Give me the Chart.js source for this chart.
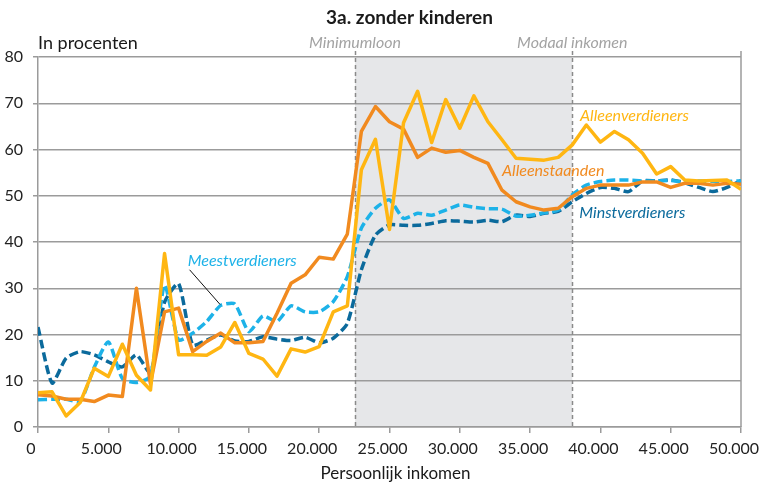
<!DOCTYPE html>
<html><head><meta charset="utf-8">
<script src="https://cdn.jsdelivr.net/npm/chart.js@4/dist/chart.umd.min.js"></script>
<style>html,body{margin:0;padding:0;background:#fff}#wrap{width:764px;height:487px}</style>
</head><body><div id="wrap"><canvas id="c" width="764" height="487"></canvas></div>
<script>
// Persoonlijk inkomen (euro), category positions
const incomes = [0,1000,2000,3000,4000,5000,6000,7000,8000,9000,10000,11000,12000,13000,14000,15000,16000,17000,18000,19000,20000,
  21000,22000,23000,24000,25000,26000,27000,28000,29000,30000,31000,32000,33000,34000,35000,36000,37000,38000,39000,40000,
  41000,42000,43000,44000,45000,46000,47000,48000,49000,50000];

const alleenstaanden = [7.0,6.7,6.0,6.0,5.5,6.9,6.6,30.0,9.3,24.9,25.7,16.3,18.5,20.3,18.2,18.2,18.5,24.6,31.1,32.9,36.7,
  36.3,41.7,63.9,69.3,66.0,64.4,58.3,60.3,59.4,59.8,58.3,57.0,51.2,48.7,47.6,46.9,47.3,49.8,51.6,52.3,
  52.3,52.3,53.0,53.0,51.8,52.7,52.7,52.3,52.7,52.5];

const alleenverdieners = [7.4,7.6,2.4,5.3,12.7,10.9,17.9,11.2,8.0,37.5,15.6,15.6,15.5,17.3,22.6,15.9,14.7,11.0,16.9,16.2,17.4,
  24.9,26.2,55.6,62.2,42.7,65.8,72.6,61.5,70.8,64.6,71.6,66.0,62.1,58.1,57.9,57.7,58.3,61.0,65.3,61.6,
  63.9,62.1,59.2,54.7,56.3,53.4,53.2,53.3,53.4,51.4];

const meestverdieners = [5.9,6.0,6.0,5.5,12.9,18.4,10.5,9.6,11.0,30.7,18.8,20.3,22.8,26.3,26.6,20.6,24.0,22.8,26.2,24.9,24.9,
  27.1,32.5,43.0,47.3,49.1,45.1,46.2,45.8,46.9,48.0,47.5,47.2,47.1,45.6,45.8,46.3,46.9,50.2,52.3,53.1,
  53.4,53.4,53.2,53.2,53.3,53.0,53.2,53.1,53.1,53.2];

const minstverdieners = [21.6,9.5,14.9,16.3,15.6,14.1,13.0,15.6,11.7,27.0,31.0,17.7,18.8,19.9,18.6,18.5,19.5,19.0,18.7,19.4,18.2,
  19.2,22.4,34.0,41.5,43.7,43.6,43.6,44.0,44.6,44.5,44.3,44.7,44.4,45.8,45.5,46.2,46.6,48.7,50.5,51.8,
  51.6,50.9,53.2,53.2,53.4,52.8,51.8,50.9,51.8,53.3];

const xTickLabels = ['0','5.000','10.000','15.000','20.000','25.000','30.000','35.000','40.000','45.000','50.000'];
const minimumloon = 22550;
const modaalInkomen = 38000;

const C_ORANGE = '#f18a1f';
const C_YELLOW = '#ffb612';
const C_LBLUE = '#1db2e8';
const C_DBLUE = '#0b6a9c';
const GRID = '#9b9b9b';
const FONT = 'Lato, "Open Sans", sans-serif';

function pts(vals){ return incomes.map((x,i)=>({x:x, y:vals[i]})); }

const overlay = {
  id: 'overlay',
  beforeDraw(chart){
    const {ctx, chartArea:a, scales:{x}} = chart;
    const x1 = x.getPixelForValue(minimumloon), x2 = x.getPixelForValue(modaalInkomen);
    ctx.save();
    ctx.fillStyle = '#e6e7e9';
    ctx.fillRect(x1, a.top, x2 - x1, a.bottom - a.top);
    ctx.restore();
  },
  beforeDatasetsDraw(chart){
    const {ctx, chartArea:a, scales:{x}} = chart;
    ctx.save();
    ctx.strokeStyle = GRID; ctx.lineWidth = 1.5;
    ctx.beginPath(); ctx.moveTo(a.right, a.top - 6); ctx.lineTo(a.right, a.bottom); ctx.stroke();
    ctx.strokeStyle = '#8a8a8a'; ctx.setLineDash([4,3]);
    [minimumloon, modaalInkomen].forEach(v=>{
      const px = Math.round(x.getPixelForValue(v)) + 0.5;
      ctx.beginPath(); ctx.moveTo(px, a.top - 6); ctx.lineTo(px, a.bottom); ctx.stroke();
    });
    ctx.restore();
  },
  afterDatasetsDraw(chart){
    const {ctx, scales:{x, y}} = chart;
    ctx.save();
    ctx.textBaseline = 'middle'; ctx.textAlign = 'left';
    ctx.font = 'italic 16px ' + FONT;
    const lab = (t, c, vx, vy) => { ctx.fillStyle = c; ctx.fillText(t, x.getPixelForValue(vx), y.getPixelForValue(vy)); };
    lab('Meestverdieners', C_LBLUE, 10650, 35.9);
    lab('Alleenverdieners', C_YELLOW, 38550, 67.2);
    lab('Alleenstaanden', C_ORANGE, 33000, 55.3);
    lab('Minstverdieners', C_DBLUE, 38500, 46.4);
    // leader line
    ctx.strokeStyle = '#111'; ctx.lineWidth = 1;
    ctx.beginPath();
    ctx.moveTo(x.getPixelForValue(10780), y.getPixelForValue(34.0));
    ctx.lineTo(x.getPixelForValue(12950), y.getPixelForValue(26.5));
    ctx.stroke();
    ctx.restore();
  },
  afterDraw(chart){
    const {ctx, chartArea:a, scales:{x}} = chart;
    const mid = (a.left + a.right)/2;
    ctx.save();
    ctx.textBaseline = 'middle';
    ctx.textAlign = 'center';
    ctx.fillStyle = '#1a1a1a';
    ctx.font = 'bold 19px ' + FONT;
    ctx.fillText('3a. zonder kinderen', mid + 20, 18);
    ctx.font = '17px ' + FONT;
    ctx.fillText('Persoonlijk inkomen', mid + 6, 474);
    ctx.textAlign = 'left';
    ctx.font = '18px ' + FONT;
    ctx.fillText('In procenten', a.left, 43);
    ctx.textAlign = 'center';
    ctx.fillStyle = '#a3a3a3';
    ctx.font = 'italic 16px ' + FONT;
    ctx.fillText('Minimumloon', x.getPixelForValue(minimumloon), 43);
    ctx.fillText('Modaal inkomen', x.getPixelForValue(modaalInkomen), 43);
    ctx.restore();
  }
};

const common = {pointRadius:0, pointHoverRadius:0, borderWidth:3.5, fill:false};

new Chart(document.getElementById('c'), {
  type: 'line',
  data: {
    datasets: [
      Object.assign({label:'Alleenverdieners', data: pts(alleenverdieners), borderColor: C_YELLOW, tension:0, borderJoinStyle:'round'}, common),
      Object.assign({label:'Alleenstaanden', data: pts(alleenstaanden), borderColor: C_ORANGE, tension:0, borderJoinStyle:'round'}, common),
      Object.assign({label:'Meestverdieners', data: pts(meestverdieners), borderColor: C_LBLUE, borderDash:[9,4], tension:0.2}, common),
      Object.assign({label:'Minstverdieners', data: pts(minstverdieners), borderColor: C_DBLUE, borderDash:[9,4], tension:0.2}, common)
    ]
  },
  options: {
    responsive: false,
    animation: false,
    devicePixelRatio: 1,
    layout: {padding: {top: 57, right: 23, left: 0, bottom: 0}},
    plugins: {legend:{display:false}, title:{display:false}, tooltip:{enabled:false}},
    scales: {
      x: {
        type: 'linear', min: 0, max: 50000,
        afterFit(s){ s.height = 60; s.paddingLeft = 0; s.paddingRight = 0; },
        ticks: {stepSize: 5000, color:'#222', font:{family: FONT, size: 16}, padding: 6, labelOffset: -7, maxRotation:0, autoSkip:false,
          callback: (v, i) => xTickLabels[i]},
        grid: {drawOnChartArea: false, drawTicks: true, tickLength: 6, color: GRID, lineWidth: 1.5},
        border: {display: true, color: GRID, width: 1.5}
      },
      y: {
        min: 0, max: 80,
        afterFit(s){ s.width = 38; s.paddingTop = 0; s.paddingBottom = 0; },
        ticks: {stepSize: 10, color:'#222', font:{family: FONT, size: 16}, padding: 10},
        grid: {color: GRID, lineWidth: 1.5, tickLength: 5, drawTicks: true},
        border: {display: true, color: GRID, width: 1.5}
      }
    }
  },
  plugins: [overlay]
});
</script>
</body></html>
